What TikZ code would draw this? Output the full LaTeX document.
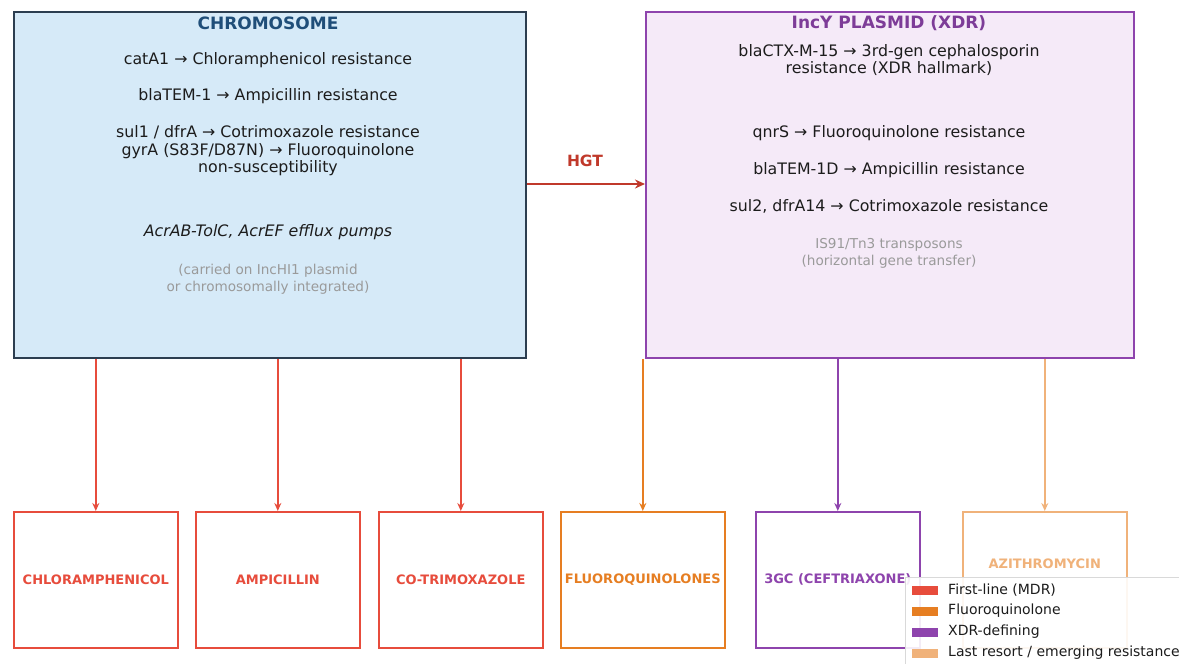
\documentclass[tikz,border=0pt]{standalone}
\usepackage{fontspec}
\setmainfont{DejaVu Sans}
\usepackage{xcolor}
\usetikzlibrary{arrows.meta}

\definecolor{chromfill}{HTML}{D6EAF8}
\definecolor{chromline}{HTML}{2C3E50}
\definecolor{chromtitle}{HTML}{1F4E79}
\definecolor{plasfill}{HTML}{F5EAF8}
\definecolor{plasline}{HTML}{8E44AD}
\definecolor{plastitle}{HTML}{7D3C98}
\definecolor{mdrred}{HTML}{E74C3C}
\definecolor{fqorange}{HTML}{E67E22}
\definecolor{xdrpurple}{HTML}{8E44AD}
\definecolor{lasttan}{HTML}{F0B27A}
\definecolor{hgtred}{HTML}{C0392B}
\definecolor{notegray}{HTML}{9A9A9A}
\definecolor{bodytext}{HTML}{1C1C1C}

\tikzset{
  genebox/.style={draw, line width=2.2pt, anchor=north west, inner sep=0pt},
  drugbox/.style={draw, line width=1.6pt, fill=white, anchor=north west, minimum width=164pt, minimum height=136pt, inner sep=0pt},
  drugname/.style={font=\fontsize{13}{15}\selectfont\bfseries},
  genetext/.style={font=\fontsize{15.8}{17.5}\selectfont, text=bodytext, align=center, inner sep=0pt},
  notetext/.style={font=\fontsize{13.6}{17}\selectfont, text=notegray, align=center, inner sep=0pt},
  feed/.style={-{Stealth[length=8pt,width=7pt]}, line width=1.5pt},
  legpatch/.style={minimum width=26pt, minimum height=9pt, inner sep=0pt},
  legtext/.style={font=\fontsize{14}{16}\selectfont, text=bodytext, anchor=west, inner sep=0pt}
}

\begin{document}
\begin{tikzpicture}[x=1pt,y=-1pt]
    \useasboundingbox (0,0) rectangle (1179,664);

    %Shape: Chromosome box
    \node [genebox, draw=chromline, fill=chromfill, minimum width=512pt, minimum height=346pt] (chrom) at (13,11) {};
    %Shape: Plasmid box
    \node [genebox, draw=plasline, fill=plasfill, minimum width=488pt, minimum height=346pt] (plasmid) at (645,11) {};

    % Text Node
    \node [font=\fontsize{17}{19}\selectfont\bfseries, text=chromtitle, inner sep=0pt] (chromtitle) at (268,23) {CHROMOSOME};
    % Text Node
    \node [genetext] (catA) at (268,60) {catA1 → Chloramphenicol resistance};
    % Text Node
    \node [genetext] (blaTEM) at (268,96) {blaTEM-1 → Ampicillin resistance};
    % Text Node
    \node [genetext] (sulone) at (268,151) {sul1 / dfrA → Cotrimoxazole resistance\\gyrA (S83F/D87N) → Fluoroquinolone\\non-susceptibility};
    % Text Node
    \node [genetext, font=\fontsize{15.8}{17.5}\selectfont\itshape] (efflux) at (268,232) {AcrAB-TolC, AcrEF efflux pumps};
    % Text Node
    \node [notetext] (carried) at (268,279) {(carried on IncHI1 plasmid\\or chromosomally integrated)};

    % Text Node
    \node [font=\fontsize{17}{19}\selectfont\bfseries, text=plastitle, inner sep=0pt] (plastitle) at (889,23) {IncY PLASMID (XDR)};
    % Text Node
    \node [genetext] (blaCTX) at (889,60) {blaCTX-M-15 → 3rd-gen cephalosporin\\resistance (XDR hallmark)};
    % Text Node
    \node [genetext] (qnrS) at (889,133) {qnrS → Fluoroquinolone resistance};
    % Text Node
    \node [genetext] (blaTEMD) at (889,170) {blaTEM-1D → Ampicillin resistance};
    % Text Node
    \node [genetext] (sultwo) at (889,206) {sul2, dfrA14 → Cotrimoxazole resistance};
    % Text Node
    \node [notetext] (transposons) at (889,253) {IS91/Tn3 transposons\\(horizontal gene transfer)};

    %Straight Lines: horizontal gene transfer
    \coordinate (hgtstart) at (chrom.east |- 0,184);
    \coordinate (hgtend) at (plasmid.west |- 0,184);
    \draw [-{Stealth[length=10pt,width=9pt]}, line width=2.4pt, hgtred] (hgtstart) -- (hgtend);
    % Text Node
    \node [font=\fontsize{15.5}{17}\selectfont\bfseries, text=hgtred, inner sep=0pt] (hgt) at (585,161) {HGT};

    %Shape: drug boxes
    \node [drugbox, draw=mdrred] (chloram) at (13,511) {};
    \node [drugbox, draw=mdrred] (ampi) at (195,511) {};
    \node [drugbox, draw=mdrred] (cotrim) at (378,511) {};
    \node [drugbox, draw=fqorange] (fluoro) at (560,511) {};
    \node [drugbox, draw=xdrpurple] (ceftri) at (755,511) {};
    \node [drugbox, draw=lasttan] (azithro) at (962,511) {};

    % Text Node
    \node [drugname, text=mdrred] (chloramname) at (chloram.center) {CHLORAMPHENICOL};
    \node [drugname, text=mdrred] (ampiname) at (ampi.center) {AMPICILLIN};
    \node [drugname, text=mdrred] (cotrimname) at (cotrim.center) {CO-TRIMOXAZOLE};
    \node [drugname, text=fqorange] (fluoroname) at (fluoro.center) {FLUOROQUINOLONES};
    \node [drugname, text=xdrpurple] (ceftriname) at (ceftri.center) {3GC (CEFTRIAXONE)};
    \node [drugname, text=lasttan] (azithroname) at ([yshift=16pt]azithro.center) {AZITHROMYCIN};

    %Straight Lines: genes to drugs
    \draw [feed, mdrred] (chrom.south -| chloram.north) -- (chloram.north);
    \draw [feed, mdrred] (chrom.south -| ampi.north) -- (ampi.north);
    \draw [feed, mdrred] (chrom.south -| cotrim.north) -- (cotrim.north);
    \draw [feed, fqorange] (plasmid.south -| fluoro.north) -- (fluoro.north);
    \draw [feed, xdrpurple] (plasmid.south -| ceftri.north) -- (ceftri.north);
    \draw [feed, lasttan] (plasmid.south -| azithro.north) -- (azithro.north);

    %Shape: legend
    \node [draw=black!15, fill=white, fill opacity=0.9, anchor=north west, minimum width=290pt, minimum height=92pt, inner sep=0pt] (legend) at (905,577) {};
    \node [legpatch, fill=mdrred] (legmdr) at (925,590) {};
    \node [legpatch, fill=fqorange] (legfq) at (925,611) {};
    \node [legpatch, fill=xdrpurple] (legxdr) at (925,632) {};
    \node [legpatch, fill=lasttan] (leglast) at (925,653) {};
    \node [legtext] (legmdrtext) at (948,590) {First-line (MDR)};
    \node [legtext] (legfqtext) at (948,611) {Fluoroquinolone};
    \node [legtext] (legxdrtext) at (948,632) {XDR-defining};
    \node [legtext] (leglasttext) at (948,653) {Last resort / emerging resistance};

\end{tikzpicture}
\end{document}
